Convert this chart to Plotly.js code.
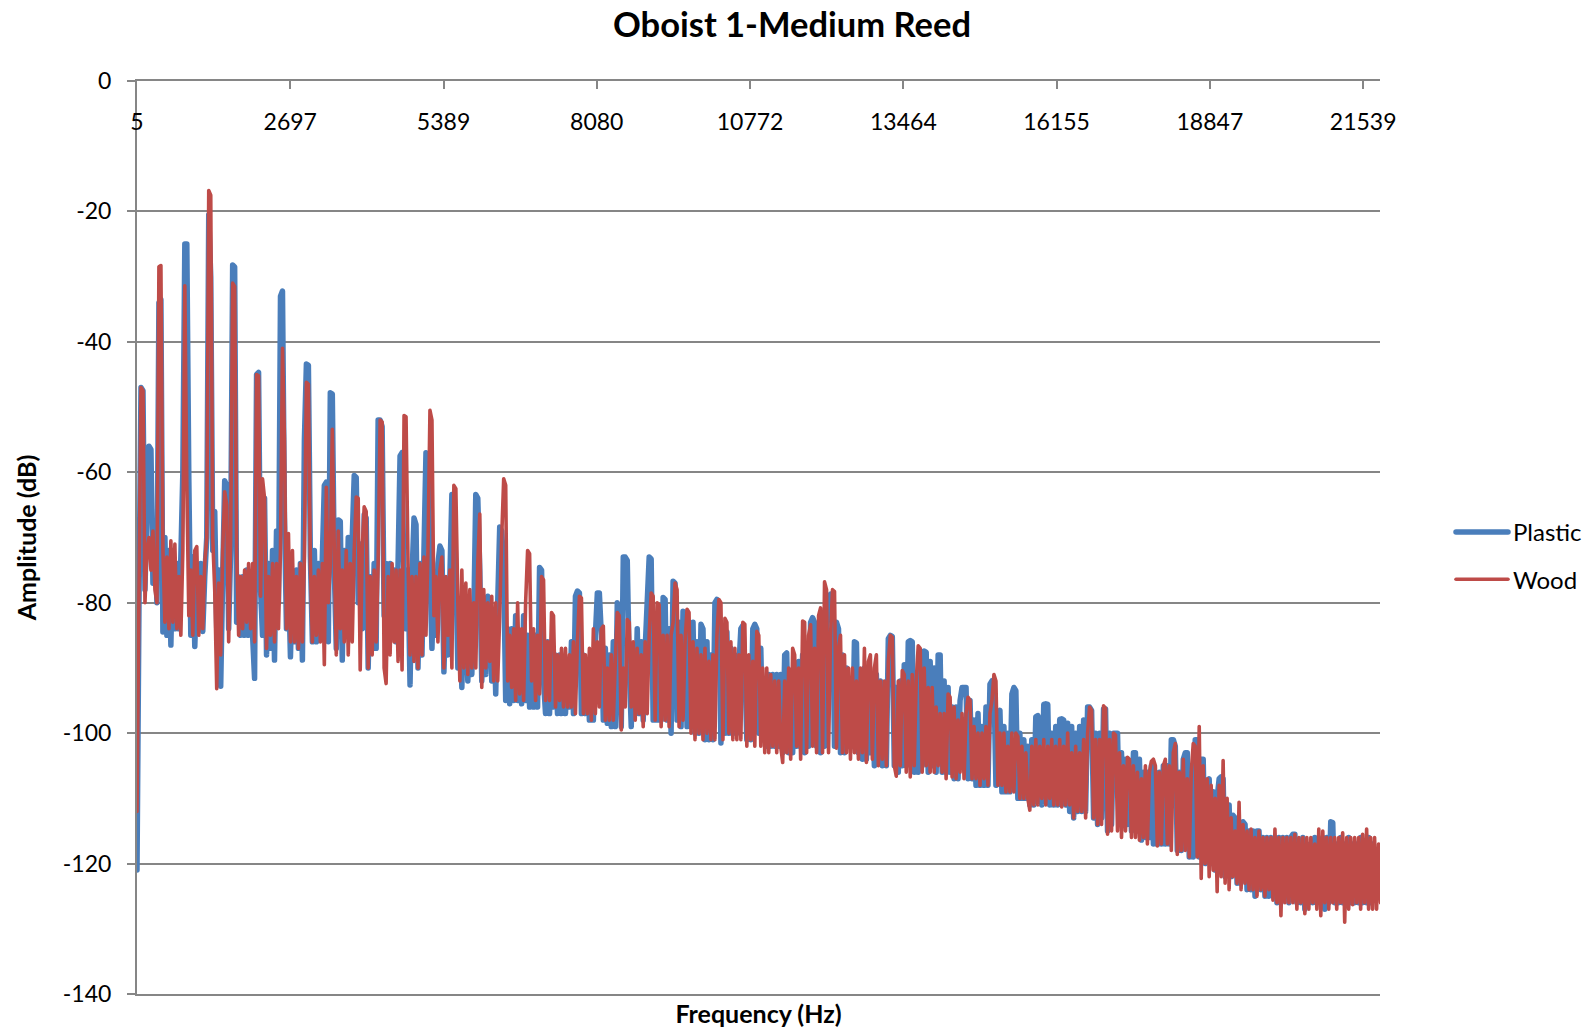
<!DOCTYPE html>
<html><head><meta charset="utf-8">
<script src="https://cdn.plot.ly/plotly-3.0.0.min.js"></script>
<style>html,body{margin:0;padding:0;background:#fff}.js-line{stroke-linejoin:round;stroke-linecap:round}</style>
</head><body><div id="chart" style="width:1593px;height:1032px"></div>
<script>
const freq=[
5,40,75,110,145,180,215,250,285,320,
355,390,425,460,495,530,565,600,635,670,
705,740,775,810,845,880,915,950,985,1020,
1055,1090,1125,1160,1195,1230,1265,1300,1335,1370,
1405,1440,1475,1510,1545,1580,1615,1650,1685,1720,
1755,1790,1825,1860,1895,1930,1965,2000,2035,2070,
2105,2140,2175,2210,2245,2280,2315,2350,2385,2420,
2455,2490,2525,2560,2595,2630,2665,2700,2735,2770,
2805,2840,2875,2910,2945,2980,3015,3050,3085,3120,
3155,3190,3225,3260,3295,3330,3365,3400,3435,3470,
3505,3540,3575,3610,3645,3680,3715,3750,3785,3820,
3855,3890,3925,3960,3995,4030,4065,4100,4135,4170,
4205,4240,4275,4310,4345,4380,4415,4450,4485,4520,
4555,4590,4625,4660,4695,4730,4765,4800,4835,4870,
4905,4940,4975,5010,5045,5080,5115,5150,5185,5220,
5255,5290,5325,5360,5395,5430,5465,5500,5535,5570,
5605,5640,5675,5710,5745,5780,5815,5850,5885,5920,
5955,5990,6025,6060,6095,6130,6165,6200,6235,6270,
6305,6340,6375,6410,6445,6480,6515,6550,6585,6620,
6655,6690,6725,6760,6795,6830,6865,6900,6935,6970,
7005,7040,7075,7110,7145,7180,7215,7250,7285,7320,
7355,7390,7425,7460,7495,7530,7565,7600,7635,7670,
7705,7740,7775,7810,7845,7880,7915,7950,7985,8020,
8055,8090,8125,8160,8195,8230,8265,8300,8335,8370,
8405,8440,8475,8510,8545,8580,8615,8650,8685,8720,
8755,8790,8825,8860,8895,8930,8965,9000,9035,9070,
9105,9140,9175,9210,9245,9280,9315,9350,9385,9420,
9455,9490,9525,9560,9595,9630,9665,9700,9735,9770,
9805,9840,9875,9910,9945,9980,10015,10050,10085,10120,
10155,10190,10225,10260,10295,10330,10365,10400,10435,10470,
10505,10540,10575,10610,10645,10680,10715,10750,10785,10820,
10855,10890,10925,10960,10995,11030,11065,11100,11135,11170,
11205,11240,11275,11310,11345,11380,11415,11450,11485,11520,
11555,11590,11625,11660,11695,11730,11765,11800,11835,11870,
11905,11940,11975,12010,12045,12080,12115,12150,12185,12220,
12255,12290,12325,12360,12395,12430,12465,12500,12535,12570,
12605,12640,12675,12710,12745,12780,12815,12850,12885,12920,
12955,12990,13025,13060,13095,13130,13165,13200,13235,13270,
13305,13340,13375,13410,13445,13480,13515,13550,13585,13620,
13655,13690,13725,13760,13795,13830,13865,13900,13935,13970,
14005,14040,14075,14110,14145,14180,14215,14250,14285,14320,
14355,14390,14425,14460,14495,14530,14565,14600,14635,14670,
14705,14740,14775,14810,14845,14880,14915,14950,14985,15020,
15055,15090,15125,15160,15195,15230,15265,15300,15335,15370,
15405,15440,15475,15510,15545,15580,15615,15650,15685,15720,
15755,15790,15825,15860,15895,15930,15965,16000,16035,16070,
16105,16140,16175,16210,16245,16280,16315,16350,16385,16420,
16455,16490,16525,16560,16595,16630,16665,16700,16735,16770,
16805,16840,16875,16910,16945,16980,17015,17050,17085,17120,
17155,17190,17225,17260,17295,17330,17365,17400,17435,17470,
17505,17540,17575,17610,17645,17680,17715,17750,17785,17820,
17855,17890,17925,17960,17995,18030,18065,18100,18135,18170,
18205,18240,18275,18310,18345,18380,18415,18450,18485,18520,
18555,18590,18625,18660,18695,18730,18765,18800,18835,18870,
18905,18940,18975,19010,19045,19080,19115,19150,19185,19220,
19255,19290,19325,19360,19395,19430,19465,19500,19535,19570,
19605,19640,19675,19710,19745,19780,19815,19850,19885,19920,
19955,19990,20025,20060,20095,20130,20165,20200,20235,20270,
20305,20340,20375,20410,20445,20480,20515,20550,20585,20620,
20655,20690,20725,20760,20795,20830,20865,20900,20935,20970,
21005,21040,21075,21110,21145,21180,21215,21250,21285,21320,
21355,21390,21425,21460,21495,21530,21565,21600,21635,21670,
21705,21740,21775,21810,21845];
const plastic=[
-121,-80,-47,-47.5,-78,-65,-56,-56.5,-77,-70,
-80,-34,-33.5,-84.5,-70,-85,-72,-86.5,-72,-84,
-74,-84,-73,-60,-25,-25,-61,-85,-73,-86.7,
-77,-84,-74,-84.4,-76,-70,-20.5,-30,-72,-66,
-84,-75,-92.8,-76,-61.3,-62,-84,-72,-28.2,-28.5,
-83,-76,-85,-76,-85,-75,-85,-76,-85,-91.6,
-45,-44.7,-78,-85,-64,-88,-74,-87,-72,-88.8,
-69,-80,-33,-32.2,-67,-84,-76,-88.3,-76,-86,
-75,-87,-74,-88.8,-55,-43.4,-43.6,-73,-86,-72,
-86,-74,-84,-73,-62,-61.5,-86,-47.8,-48,-75,
-87,-67.3,-67.5,-88.8,-72,-84,-70,-85,-70,-60.5,
-60.8,-80,-71,-84,-66.5,-67,-90,-76,-87,-74,
-87,-52,-52,-53,-82,-74,-87,-74,-85,-75,
-86,-74,-57.5,-57,-78,-84,-75,-92.6,-76,-67,
-68,-90,-74,-88,-72,-57,-57.3,-75,-87,-76,
-85,-74,-71.3,-72,-90.6,-80,-88,-76,-63.4,-64,
-75,-90,-80,-93,-79.5,-79.7,-92,-82,-91,-82,
-63.4,-64,-75,-92,-80,-91,-79,-79.5,-92,-82,
-94,-80,-68.4,-69,-75,-95,-84,-95.5,-84,-95,
-82,-95,-86,-95.5,-82,-95,-85,-96,-86,-96,
-85,-96,-74.6,-75,-92,-97,-86,-97,-87,-96,
-88,-97,-88,-97,-89,-97,-90,-96,-86,-97,
-79,-78.2,-78.5,-97,-88,-97,-90,-98,-88,-98,
-85,-78.5,-78.5,-85,-98,-87,-98.5,-88,-99,-86,
-99,-80,-85,-99,-73,-73,-73.5,-90,-99,-88,
-97,-84,-97,-86,-98,-87,-80,-73,-73.3,-98,
-88,-98,-84,-98,-79.2,-79.5,-98,-84,-100,-76.7,
-77,-98,-83,-99,-81.3,-81.5,-99,-83,-99,-83,
-100,-86,-100,-83.3,-84,-101,-86,-101,-88,-101,
-80,-79.5,-80,-101.5,-84,-100,-84.5,-100,-87,-100,
-88,-100,-90,-84,-83.5,-90,-101,-90,-101,-84,
-83.3,-84,-100,-87,-101,-92,-102,-91,-102,-91,
-102,-91,-102,-91,-103,-88,-87.7,-103,-91,-103,
-90,-102,-89,-102,-88,-103,-87,-102,-83,-82.3,
-83,-102,-86,-103,-84,-102,-85,-79,-78.7,-79,
-102,-83,-84,-103,-88,-103,-90,-102,-92,-102,
-86,-86.2,-103,-92,-104,-90,-104,-91,-103,-92,
-105,-91,-104,-92,-105,-93,-105,-85.5,-85,-85.2,
-105,-93,-106,-92,-105,-89.5,-105,-86,-85.8,-86,
-106,-92,-106,-90,-105,-87.4,-87.6,-106,-89,-105,
-90,-106,-88,-88,-106,-92,-106,-93,-106,-96,
-107,-96,-107,-95,-93,-93,-93,-107,-95,-107,
-98,-108,-97,-108,-99,-108,-96,-108,-92.5,-92,
-92.5,-108,-97,-96.5,-109,-99,-109,-100,-109,-94,
-93,-93.5,-110,-100,-110,-101,-110,-102,-111,-101,
-111,-97.5,-97.3,-98,-111,-95.6,-95.5,-95.6,-111,-100,
-111,-99,-111,-97.9,-97.8,-98,-111,-98.5,-112,-99,
-113,-100,-112,-99,-112,-98,-112,-96,-96,-96.5,
-113,-100,-114,-100,-113,-96.3,-96.3,-115,-100,-114,
-100,-100,-100,-114,-103,-114,-104,-114,-105,-115,
-103,-103,-115,-104,-116.4,-106,-116,-106,-116,-105,
-117,-106,-117,-106,-117,-105,-117,-105,-117,-101,
-101,-102,-118,-106,-118,-104,-103,-103,-119,-105,
-119,-101,-101,-119,-104,-104,-120,-108,-107,-120,
-109,-121,-110,-107,-106.7,-107,-122,-111,-111,-122,
-112.6,-113,-123,-114,-123,-113.6,-114,-124,-115,-124,
-115,-125,-115,-115,-124,-116,-125,-116,-125,-116,
-125,-116,-126,-116,-126,-116,-125,-116,-126,-116,
-115.5,-115.5,-126,-117,-126,-116,-127,-117,-126,-117,
-126,-116,-126,-117,-126,-116,-127,-116,-126,-113.6,
-113.7,-126,-117,-126,-116,-126,-117,-126,-116,-126,
-117,-126,-117,-126,-116,-126,-117,-126,-116,-126,
-117,-125,-118,-124,-119];
const wood=[
-112,-78,-47,-47.5,-80,-72,-70,-75,-69,-78,
-80,-28.5,-28.3,-72,-83,-73,-84,-70.5,-83,-71,
-84,-76,-85,-72,-31.4,-62,-82,-75,-85,-72,
-71.4,-85,-76,-84,-74,-70,-16.8,-17.5,-70,-78,
-93.2,-77,-88,-72,-63,-65,-86,-70,-31,-31.5,
-72,-85,-76,-84,-75,-83,-74,-84,-74,-86,
-45,-45.2,-79,-61,-64,-87,-76,-85,-74,-86,
-74,-84,-72,-41,-55,-84,-69.4,-86,-72,-86,
-76,-87,-74,-86,-73,-46.2,-46.5,-74,-86,-76,
-85,-75,-86,-74,-89.5,-62.3,-80,-74,-53.4,-72,
-88,-69,-84,-75,-86,-72,-88,-74,-86,-72,
-63.8,-64,-90.3,-72,-65.3,-66,-90,-76,-88,-75,
-86,-74,-52,-52.3,-90,-92.4,-76,-88,-74,-86,
-75,-89,-75,-90.3,-51.3,-51.5,-74,-88,-76,-89,
-76,-90,-74,-88,-73,-85,-72,-50.5,-52,-82,
-76,-86,-75,-73,-90,-76,-85,-75,-90,-62,
-62.5,-80,-92,-75,-90,-77,-91,-78,-90,-80,
-90,-74,-66.4,-93,-78,-90,-80,-89,-79,-92,
-80,-92,-82,-70,-61,-62,-92,-85,-93,-84,
-95,-80,-94,-84,-95,-80,-72,-72.5,-92,-84,
-95,-85,-94,-76,-76.5,-95,-86,-95,-81.5,-82,
-96,-88,-95,-87,-96,-87,-96,-88,-96,-86,
-97,-86,-79,-79.3,-97,-88,-97,-87,-98,-84,
-97,-86,-96,-84,-83.6,-98,-90,-98,-88,-98,
-89,-81.5,-82,-99.5,-90,-96,-82.6,-83,-96,-86,
-98,-87,-97,-88,-99,-86,-97,-85,-78.5,-79,
-98,-80,-80.3,-99,-85,-98,-85,-99,-85,-83,
-77,-78,-99,-85,-98,-86,-81,-81.5,-100,-86,
-101,-87,-100,-88,-101,-87,-100,-89,-101,-88,
-101,-85,-79.5,-80,-101,-82.4,-83,-100,-86,-101,
-87,-101,-88,-101,-83,-83.3,-102,-88,-101,-89,
-102,-84.4,-85,-102,-90,-103,-90,-103,-91,-102,
-92,-103,-92,-102,-104.5,-92,-103,-90,-104,-87,
-88,-102,-90,-104,-82.8,-83,-103,-85,-83.4,-102,
-87,-103,-82,-80.8,-103,-76.8,-78,-103,-85,-78,
-78.3,-102.3,-87,-85,-103,-88,-103,-90,-104,-90,
-103,-92,-104,-90,-103,-87,-104.5,-89,-88,-104,
-90,-88,-105,-92,-104,-92,-105,-89,-85,-85.3,
-105,-106.6,-92,-105,-90.4,-91,-106,-92,-106.7,-91,
-105,-92,-86.6,-87,-106,-90,-105,-93,-106,-93,
-106,-96,-105,-97,-106,-97,-107,-94,-94.5,-106.7,
-96,-107,-98,-106,-97,-107,-97,-94.5,-95,-107,
-99,-107,-100,-108,-100,-107,-99,-108,-97,-95,
-91,-92,-108,-100,-108,-100,-109,-102,-109,-100,
-109,-100,-100.5,-110,-102,-110,-103,-110,-111.8,-102,
-111,-101,-111,-102,-110,-101,-111,-102,-110,-101,
-111,-102,-111,-101,-111.3,-102,-111,-100,-111,-103,
-113,-102,-112,-103,-112,-101,-113,-100,-96,-96.5,
-113,-101,-114,-101,-114,-95.8,-96.2,-115.5,-101,-115,
-100,-100.3,-115,-103,-116,-105,-115,-103.7,-104,-116,
-105,-116,-106,-116.4,-107,-116,-105,-117,-106,-104.3,
-104,-105,-117.3,-106,-117,-105,-104,-117,-105,-118,
-103,-101.6,-118.6,-106,-118,-104,-118,-107,-119,-106,
-101.6,-102,-119,-99,-122.3,-105,-120,-107,-122,-108,
-121,-110,-124.3,-108,-122,-104.2,-123,-110,-124,-113,
-122,-115,-123,-110.6,-124,-114,-123,-115,-124,-114.7,
-124,-116,-125,-115,-124,-116,-125,-116,-124,-116,
-125.6,-114.7,-126,-116,-128,-116,-126,-116,-126,-116,
-126,-115.5,-127,-116,-126,-116,-127.7,-116,-127,-116,
-126,-117,-127,-114.7,-128,-115,-126,-116,-127,-116,
-126,-116,-127,-116,-126,-115.3,-129,-116,-127,-116,
-126.3,-116,-126,-116,-127,-115.5,-126,-114.7,-127,-116,
-127,-116,-127,-117,-126];
const xTickVals=[5,2697,5389,8080,10772,13464,16155,18847,21539];
const xTickText=["5","2697","5389","8080","10772","13464","16155","18847","21539"];
const yTickVals=[0,-20,-40,-60,-80,-100,-120,-140];
const yTickText=["0","-20","-40","-60","-80","-100","-120","-140"];
const FONT="Lato, Carlito, Calibri, sans-serif", AX="#868686", TXT="#000", XR=[5,21835];
const data=[
 {type:'scatter',mode:'lines',name:'Plastic',x:freq,y:plastic,xaxis:'x',yaxis:'y',cliponaxis:false,legendgroup:'a',
  line:{color:'#4a7ebb',width:5.5,simplify:false},hoverinfo:'skip'},
 {type:'scatter',mode:'lines',name:'Wood',x:freq,y:wood,xaxis:'x2',yaxis:'y',cliponaxis:false,legendgroup:'b',
  line:{color:'#be4b48',width:3.6,simplify:false},hoverinfo:'skip'}
];
const layout={
 width:1593,height:1032,autosize:false,paper_bgcolor:'#fff',plot_bgcolor:'#fff',hovermode:false,
 margin:{l:137,r:213,t:81,b:38,pad:0},
 font:{family:FONT,color:TXT,size:23},
 title:{text:'<b>Oboist 1-Medium Reed</b>',font:{family:FONT,size:34.5,color:TXT},x:792/1593,xanchor:'center',y:1-25/1032,yanchor:'middle',xref:'container'},
 xaxis:{type:'linear',range:XR,side:'bottom',showticklabels:false,ticks:'',showgrid:false,zeroline:false,showline:true,linecolor:AX,linewidth:2,
  title:{text:'<b>Frequency (Hz)</b>',font:{family:FONT,size:25,color:TXT},standoff:10}},
 xaxis2:{type:'linear',range:XR,overlaying:'x',side:'top',tickmode:'array',tickvals:xTickVals,ticktext:xTickText,
  ticks:'inside',ticklen:8,tickwidth:2,tickcolor:AX,ticklabelposition:'outside',ticklabelstandoff:-60,showgrid:false,zeroline:false,showline:true,linecolor:AX,linewidth:2,
  tickfont:{family:FONT,size:23,color:TXT}},
 yaxis:{type:'linear',range:[-140,0],tickmode:'array',tickvals:yTickVals,ticktext:yTickText,ticks:'outside',ticklen:8,tickwidth:2,tickcolor:AX,ticklabelstandoff:11,
  showgrid:true,gridcolor:AX,gridwidth:2,zeroline:false,showline:true,linecolor:AX,linewidth:2,tickfont:{family:FONT,size:23,color:TXT}, 
  title:{text:'<b>Amplitude (dB)</b>',font:{family:FONT,size:25,color:TXT},standoff:19}},
 showlegend:true,
 legend:{x:1451/1593,xref:'container',xanchor:'left',y:1-510/1032,yref:'container',yanchor:'top',traceorder:'grouped',tracegroupgap:13,itemwidth:52,font:{family:FONT,size:24,color:TXT},bgcolor:'rgba(0,0,0,0)',borderwidth:0}
};
Plotly.newPlot('chart',data,layout,{displayModeBar:false,staticPlot:true});
</script></body></html>
